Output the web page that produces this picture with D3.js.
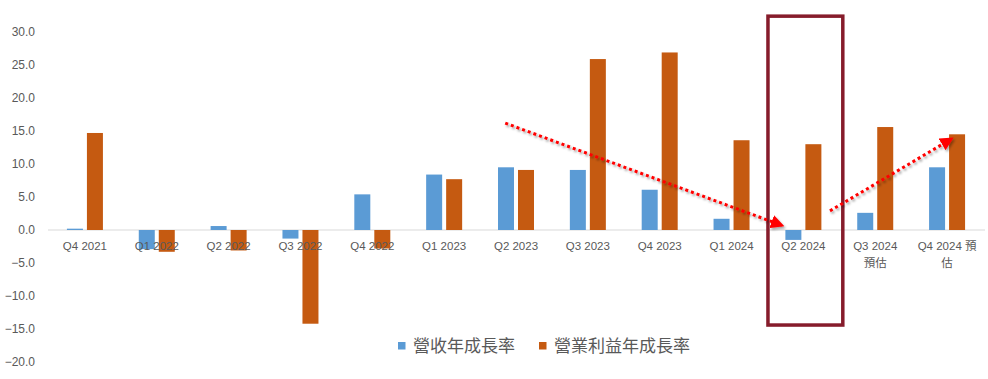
<!DOCTYPE html>
<html>
<head>
<meta charset="utf-8">
<script src="https://cdn.jsdelivr.net/npm/d3@7"></script>
<style>
  body { margin: 0; background: #fff; }
  svg text { font-family: "Liberation Sans", "Noto Sans CJK TC", sans-serif; fill: #595959; }
</style>
</head>
<body>
<div id="chart"></div>
<script>
//DATA
var categories = ["Q4 2021", "Q1 2022", "Q2 2022", "Q3 2022", "Q4 2022", "Q1 2023", "Q2 2023",
  "Q3 2023", "Q4 2023", "Q1 2024", "Q2 2024", "Q3 2024 預估", "Q4 2024 預估"];
var tickLabels = [["Q4 2021"], ["Q1 2022"], ["Q2 2022"], ["Q3 2022"], ["Q4 2022"], ["Q1 2023"], ["Q2 2023"],
  ["Q3 2023"], ["Q4 2023"], ["Q1 2024"], ["Q2 2024"], ["Q3 2024", "預估"], ["Q4 2024 預", "估"]];
var seriesNames = ["營收年成長率", "營業利益年成長率"];
var revenueGrowth = [0.2, -2.9, 0.6, -1.3, 5.4, 8.4, 9.5, 9.1, 6.1, 1.7, -1.5, 2.6, 9.5];
var opProfitGrowth = [14.7, -3.3, -3.1, -14.2, -2.8, 7.7, 9.1, 25.9, 26.9, 13.6, 13.0, 15.6, 14.5];
var yTicks = [30, 25, 20, 15, 10, 5, 0, -5, -10, -15, -20];

//annotations: [category, fraction of band, value]
var arrows = [
  {from: ["Q2 2023", 0.35, 16.2], to: ["Q2 2024", 0.2, 0.7]},
  {from: ["Q2 2024", 0.87, 2.9], to: ["Q4 2024 預估", 0.56, 13.8]}
];
var highlight = {category: "Q2 2024", top: 32.4, bottom: -14.4};

var W = 988, H = 379;
var colors = ["#5B9BD5", "#C55A11"];

var svg = d3.select("#chart").append("svg")
  .attr("width", W)
  .attr("height", H);

//SCALES
var x0 = d3.scaleBand()
  .domain(categories)
  .range([49, 983]);

var x1 = d3.scaleBand()
  .domain(seriesNames)
  .range([x0.bandwidth() / 2 - 18, x0.bandwidth() / 2 + 18])
  .paddingInner(0.2);

var y = d3.scaleLinear()
  .domain([-20, 30])
  .range([362, 32]);

//Y AXIS LABELS (no line, no ticks)
var yAxis = d3.axisLeft(y)
  .tickValues(yTicks)
  .tickSize(0)
  .tickPadding(0)
  .tickFormat(d3.format(".1f"));

svg.append("g")
  .attr("transform", "translate(35,0)")
  .call(yAxis)
  .call(function(g) { g.select(".domain").remove(); })
  .selectAll("text")
  .style("font-size", "12px")
  .attr("fill", "#595959");

//ZERO LINE
svg.append("line")
  .attr("x1", 48).attr("x2", 985)
  .attr("y1", y(0)).attr("y2", y(0))
  .attr("stroke", "#d9d9d9")
  .attr("stroke-width", 1.2);

//BARS
var rows = categories.map(function(c, i) {
  return {cat: c, values: [revenueGrowth[i], opProfitGrowth[i]]};
});

var groups = svg.selectAll("g.grp")
  .data(rows)
  .enter().append("g")
  .attr("class", "grp")
  .attr("transform", function(d) { return "translate(" + x0(d.cat) + ",0)"; });

groups.selectAll("rect")
  .data(function(d) { return d.values.map(function(v, k) { return {s: seriesNames[k], v: v, k: k}; }); })
  .enter().append("rect")
  .attr("x", function(d) { return x1(d.s); })
  .attr("width", x1.bandwidth())
  .attr("y", function(d) { return y(Math.max(0, d.v)); })
  .attr("height", function(d) { return Math.abs(y(d.v) - y(0)); })
  .attr("fill", function(d) { return colors[d.k]; });

//X LABELS
var xl = svg.append("g");
categories.forEach(function(c, i) {
  var t = xl.append("text")
    .attr("x", x0(c) + x0.bandwidth() / 2)
    .attr("y", 250)
    .attr("text-anchor", "middle")
    .style("font-size", "11.5px");
  tickLabels[i].forEach(function(line, j) {
    t.append("tspan")
      .attr("x", x0(c) + x0.bandwidth() / 2)
      .attr("dy", j === 0 ? 0 : 17)
      .text(line);
  });
});

//HIGHLIGHT BOX
svg.append("rect")
  .attr("x", x0(highlight.category) + 0.5)
  .attr("y", y(highlight.top))
  .attr("width", x0.bandwidth() + 3)
  .attr("height", y(highlight.bottom) - y(highlight.top))
  .attr("fill", "none")
  .attr("stroke", "#861c2b")
  .attr("stroke-width", 3.5);

//ARROWS
var defs = svg.append("defs");
defs.append("marker")
  .attr("id", "head")
  .attr("viewBox", "0 0 10 10")
  .attr("refX", 8).attr("refY", 5)
  .attr("markerWidth", 4.5).attr("markerHeight", 4.5)
  .attr("markerUnits", "strokeWidth")
  .attr("orient", "auto")
  .append("path")
  .attr("d", "M0,0 L10,5 L0,10 z")
  .attr("fill", "#ff0000");

var shadow = defs.append("filter").attr("id", "shadow")
  .attr("x", "-10%").attr("y", "-10%").attr("width", "130%").attr("height", "130%");
shadow.append("feDropShadow")
  .attr("dx", 1.5).attr("dy", 2)
  .attr("stdDeviation", 1.2)
  .attr("flood-color", "#000")
  .attr("flood-opacity", 0.35);

function px(p) { return x0(p[0]) + p[1] * x0.bandwidth(); }

svg.selectAll("line.arrow")
  .data(arrows)
  .enter().append("line")
  .attr("class", "arrow")
  .attr("x1", function(d) { return px(d.from); })
  .attr("y1", function(d) { return y(d.from[2]); })
  .attr("x2", function(d) { return px(d.to); })
  .attr("y2", function(d) { return y(d.to[2]); })
  .attr("stroke", "#ff0000")
  .attr("stroke-width", 3)
  .attr("stroke-dasharray", "3,3")
  .attr("marker-end", "url(#head)")
  .attr("filter", "url(#shadow)");

//LEGEND
var legend = svg.append("g");
var legendX = [398, 539];
seriesNames.forEach(function(s, i) {
  legend.append("rect")
    .attr("x", legendX[i]).attr("y", 342)
    .attr("width", 7.5).attr("height", 7.5)
    .attr("fill", colors[i]);
  legend.append("text")
    .attr("x", legendX[i] + 15).attr("y", 352)
    .style("font-size", "17px")
    .text(s);
});
</script>
</body>
</html>
